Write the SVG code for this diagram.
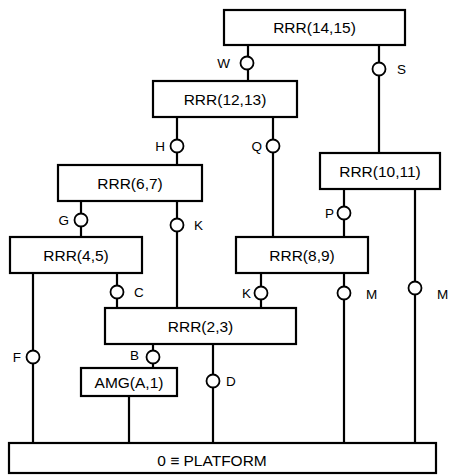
<svg xmlns="http://www.w3.org/2000/svg" width="449" height="475" viewBox="0 0 449 475">
<style>
.box{fill:#fff;stroke:#000;stroke-width:2.2}
.ln{stroke:#000;stroke-width:2.2;fill:none}
.j{fill:#fff;stroke:#000;stroke-width:1.8}
text{font-family:"Liberation Sans",Arial,sans-serif;font-size:13.5px;fill:#000}
.bt{font-size:15.5px;text-anchor:middle}
.e{text-anchor:end}
</style>
<rect width="449" height="475" fill="#fff"/>
<g id="connectors">
<path class="ln" d="M248 45V81M379 45V153M177 117V165M273 117V237M81 201V237M177 201V308M344 189V237M415 189V443M33 273V443M117 273V308M261 273V308M344 273V443M153 344V368M129 396V443M213 344V443"/>
<circle class="j" cx="247" cy="63" r="6.5"/><text x="230" y="68" class="e">W</text>
<circle class="j" cx="379" cy="69" r="6.5"/><text x="397" y="74">S</text>
<circle class="j" cx="177" cy="146" r="6.5"/><text x="165" y="151" class="e">H</text>
<circle class="j" cx="273" cy="146" r="6.5"/><text x="262" y="151" class="e">Q</text>
<circle class="j" cx="81" cy="220" r="6.5"/><text x="69" y="225" class="e">G</text>
<circle class="j" cx="177" cy="225" r="6.5"/><text x="194" y="230">K</text>
<circle class="j" cx="344" cy="213" r="6.5"/><text x="334" y="218" class="e">P</text>
<circle class="j" cx="117" cy="292" r="6.5"/><text x="134" y="297">C</text>
<circle class="j" cx="261" cy="293" r="6.5"/><text x="251" y="298" class="e">K</text>
<circle class="j" cx="344" cy="293" r="6.5"/><text x="366" y="299">M</text>
<circle class="j" cx="415" cy="288" r="6.5"/><text x="437" y="299">M</text>
<circle class="j" cx="33" cy="357" r="6.5"/><text x="21" y="362" class="e">F</text>
<circle class="j" cx="153" cy="357" r="6.5"/><text x="139" y="360" class="e">B</text>
<circle class="j" cx="213" cy="381" r="6.5"/><text x="226" y="386">D</text>
</g>
<g id="n1415"><rect class="box" x="224" y="10" width="181" height="35"/><text x="314.5" y="33" class="bt">RRR(14,15)</text></g>
<g id="n1213"><rect class="box" x="153" y="81" width="144" height="36"/><text x="225" y="105" class="bt">RRR(12,13)</text></g>
<g id="n1011"><rect class="box" x="320" y="153" width="120" height="36"/><text x="380" y="177" class="bt">RRR(10,11)</text></g>
<g id="n67"><rect class="box" x="58" y="165" width="144" height="36"/><text x="130" y="189" class="bt">RRR(6,7)</text></g>
<g id="n45"><rect class="box" x="10" y="237" width="132" height="36"/><text x="76" y="261" class="bt">RRR(4,5)</text></g>
<g id="n89"><rect class="box" x="236" y="237" width="132" height="36"/><text x="302" y="261" class="bt">RRR(8,9)</text></g>
<g id="n23"><rect class="box" x="105" y="308" width="191" height="36"/><text x="200.5" y="332" class="bt">RRR(2,3)</text></g>
<g id="amg"><rect class="box" x="81" y="368" width="96" height="28"/><text x="129" y="388" class="bt">AMG(A,1)</text></g>
<g id="platform"><rect class="box" x="9" y="443" width="427" height="30"/><text x="212" y="466" class="bt">0 ≡ PLATFORM</text></g>
</svg>
